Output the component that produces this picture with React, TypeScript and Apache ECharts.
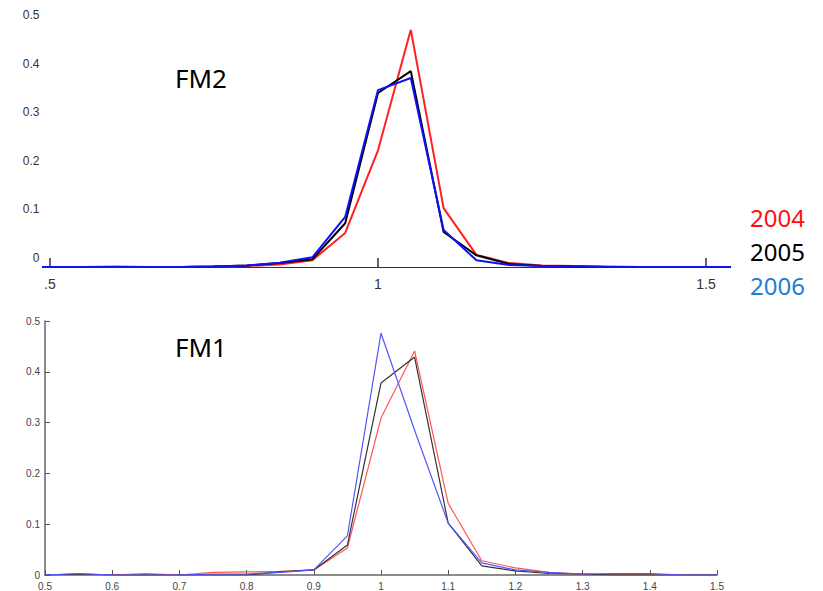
import React, { useEffect, useRef } from "react";
import * as echarts from "echarts";

// ---------- data ----------
const seriesNames = ["2004", "2005", "2006"];
const legendColors = ["#ff1010", "#000000", "#1f7dd0"];

// FM2 (top panel), x = 0.45 .. 1.55 step 0.05
const fm2X = [0.45, 0.5, 0.55, 0.6, 0.65, 0.7, 0.75, 0.8, 0.85, 0.9, 0.95, 1.0, 1.05, 1.1, 1.15, 1.2, 1.25, 1.3, 1.35, 1.4, 1.45, 1.5, 1.55];
const fm2Red = [0, 0, 0, 0.001, 0, 0, 0.001, 0.002, 0.005, 0.014, 0.07, 0.24, 0.488, 0.121, 0.025, 0.008, 0.003, 0.002, 0.001, 0, 0, 0, 0];
const fm2Black = [0, 0, 0, 0, 0, 0, 0.001, 0.003, 0.008, 0.016, 0.09, 0.358, 0.403, 0.072, 0.024, 0.006, 0.002, 0.001, 0, 0, 0, 0, 0];
const fm2Blue = [0, 0, 0, 0, 0, 0, 0.001, 0.003, 0.009, 0.02, 0.103, 0.364, 0.389, 0.076, 0.014, 0.004, 0.002, 0.001, 0, 0, 0, 0, 0];

// FM1 (bottom panel), x = 0.5 .. 1.5 step 0.05
const fm1X = [0.5, 0.55, 0.6, 0.65, 0.7, 0.75, 0.8, 0.85, 0.9, 0.95, 1.0, 1.05, 1.1, 1.15, 1.2, 1.25, 1.3, 1.35, 1.4, 1.45, 1.5];
const fm1Red = [0, 0, 0, 0.003, 0, 0.005, 0.006, 0.007, 0.01, 0.053, 0.309, 0.441, 0.141, 0.028, 0.014, 0.005, 0.001, 0, 0, 0, 0];
const fm1Black = [0, 0.002, 0, 0, 0, 0, 0, 0.006, 0.01, 0.059, 0.378, 0.429, 0.102, 0.018, 0.008, 0.003, 0.002, 0, 0, 0, 0];
const fm1Blue = [0, 0.003, 0, 0, 0, 0.002, 0.002, 0.005, 0.01, 0.077, 0.476, 0.285, 0.102, 0.024, 0.01, 0.005, 0.002, 0.003, 0.003, 0, 0];

const fm2TickValues = [0.5, 1, 1.5];
const fm2TickLabels = [".5", "1", "1.5"];
const panelTitles = ["FM2", "FM1"];

const zip = (xs: number[], ys: number[]) => xs.map((x, i) => [x, ys[i]]);

export default function App() {
  const ref = useRef<HTMLDivElement>(null);
  useEffect(() => {
    if (!ref.current) return;
    const chart = echarts.init(ref.current, undefined, { renderer: "svg" });
    const topColors = ["#ff2020", "#000000", "#1010ff"];
    const botColors = ["#ff5555", "#333333", "#5555ff"];
    const topData = [fm2Red, fm2Black, fm2Blue];
    const botData = [fm1Red, fm1Black, fm1Blue];
    chart.setOption({
      animation: false,
      backgroundColor: "#ffffff",
      title: [
        { text: panelTitles[0], left: 170, top: 60, textStyle: { fontFamily: "Noto Sans", fontSize: 26, fontWeight: "normal", color: "#000" } },
        { text: panelTitles[1], left: 170, top: 329, textStyle: { fontFamily: "Noto Sans", fontSize: 26, fontWeight: "normal", color: "#000" } },
      ],
      grid: [
        { left: 43.4, right: 94, top: 24, height: 243 },
        { left: 45, right: 106, top: 321, height: 254 },
      ],
      xAxis: [
        {
          gridIndex: 0,
          type: "value",
          min: 0.49,
          max: 1.535,
          splitLine: { show: false },
          axisLine: { lineStyle: { color: "#333", width: 1.2 } },
          axisTick: { inside: true, length: 9, customValues: fm2TickValues, lineStyle: { color: "#333", width: 1.5 } },
          axisLabel: {
            customValues: fm2TickValues,
            formatter: (v: number) => fm2TickLabels[fm2TickValues.indexOf(v)] ?? "",
            margin: 10,
            fontSize: 14,
            fontFamily: "Liberation Sans",
            color: "#333",
          },
        },
        {
          gridIndex: 1,
          type: "value",
          min: 0.5,
          max: 1.5,
          interval: 0.1,
          splitLine: { show: false },
          axisLine: { lineStyle: { color: "#666", width: 1.5 } },
          axisTick: { inside: true, length: 5, lineStyle: { color: "#555" } },
          axisLabel: { margin: 6, fontSize: 10, fontFamily: "Liberation Sans", color: "#444" },
        },
      ],
      yAxis: [
        {
          gridIndex: 0,
          type: "value",
          min: 0,
          max: 0.5,
          interval: 0.1,
          splitLine: { show: false },
          axisLine: { show: false },
          axisTick: { show: false },
          axisLabel: {
            margin: 4,
            fontSize: 12,
            fontFamily: "Liberation Sans",
            color: "#333",
            verticalAlign: "bottom",
            lineHeight: 18,
          },
        },
        {
          gridIndex: 1,
          type: "value",
          min: 0,
          max: 0.5,
          interval: 0.1,
          splitLine: { show: false },
          axisLine: { show: true, lineStyle: { color: "#666", width: 1.5 } },
          axisTick: { show: true, inside: true, length: 5, lineStyle: { color: "#555" } },
          axisLabel: { margin: 5, fontSize: 10, fontFamily: "Liberation Sans", color: "#444" },
        },
      ],
      series: [
        ...seriesNames.map((name, i) => ({
          name,
          type: "line",
          xAxisIndex: 0,
          yAxisIndex: 0,
          data: zip(fm2X, topData[i]),
          symbol: "none",
          lineStyle: { color: topColors[i], width: 2 },
          itemStyle: { color: topColors[i] },
          z: 2 + i,
        })),
        ...seriesNames.map((name, i) => ({
          name,
          type: "line",
          xAxisIndex: 1,
          yAxisIndex: 1,
          data: zip(fm1X, botData[i]),
          symbol: "none",
          lineStyle: { color: botColors[i], width: 1.2 },
          itemStyle: { color: botColors[i] },
          z: 2 + i,
        })),
      ],
      graphic: seriesNames.map((name, i) => ({
        type: "text",
        left: 750,
        top: 205 + i * 34,
        style: { text: name, fill: legendColors[i], fontSize: 24, fontFamily: "Noto Sans" },
      })),
    });
    return () => chart.dispose();
  }, []);
  return <div ref={ref} style={{ position: "fixed", left: 0, top: 0, width: 823, height: 591 }} />;
}
